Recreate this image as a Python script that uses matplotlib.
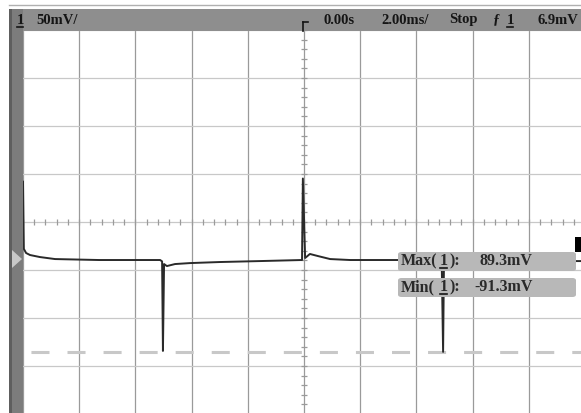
import numpy as np
import matplotlib.pyplot as plt
from matplotlib.patches import Rectangle, FancyBboxPatch, Polygon
from matplotlib.lines import Line2D

# oscilloscope capture: channel 1, 50mV/div, 2.00ms/div
time_ms = [-10.0, -9.97, -9.89, -9.75, -9.4, -8.86, -7.3, -6.0, -5.12, -5.05,
           -5.02, -4.98, -4.88, -4.59, -4.06, -3.0, -1.57, -0.07, -0.04, 0.04,
           0.21, 0.5, 0.93, 1.64, 3.0, 4.9, 4.95, 4.98, 5.12, 5.9, 7.7, 10.0]
volt_mv = [86.0, 16.0, 11.7, 9.6, 7.5, 5.4, 4.4, 4.4, 4.4, 3.0,
           -90.3, 0.2, -1.9, 0.2, 1.2, 2.3, 3.3, 4.4, 89.3, 6.5,
           10.7, 8.5, 5.4, 4.4, 4.4, 4.4, -91.3, -0.8, -1.9, 2.3, 3.3, 3.3]

max_mv = 89.3
min_mv = -91.3
mv_per_div = 50
ms_per_div = 2.0
center_mv = 44  # screen centre level

W, H = 581, 413
fig = plt.figure(figsize=(W / 100, H / 100), dpi=100)


def fx(x):
    return x / W


def fy(y):
    return 1 - y / H


def uline(x0, x1, y):
    fig.add_artist(Line2D([fx(x0), fx(x1)], [fy(y), fy(y)], color='#151515', lw=1.2))


# screen area, pixel 23..585 x 30..414 (right edge clipped by the picture)
ax = fig.add_axes([fx(23), fy(414), 562 / W, 384 / H])
ax.set_xlim(-5 * ms_per_div, 5 * ms_per_div)
ax.set_ylim(center_mv - 4 * mv_per_div, center_mv + 4 * mv_per_div)
ax.set_axis_off()

# grid
for k in range(-5, 6):
    ax.axvline(k * ms_per_div, color='#9a9a9a', lw=0.9, zorder=1)
for k in range(-4, 5):
    ax.axhline(center_mv + k * mv_per_div, color='#c8c8c8', lw=0.9, zorder=1)

# minor ticks on the centre lines
xt = np.arange(-10, 10.01, ms_per_div / 5)
ax.plot(xt, [center_mv] * len(xt), ls='none', marker='|', ms=5, mew=0.9,
        color='#9a9a9a', zorder=1)
yt = np.arange(center_mv - 200, center_mv + 200.1, mv_per_div / 5)
ax.plot([0] * len(yt), yt, ls='none', marker='_', ms=5, mew=0.9,
        color='#9a9a9a', zorder=1)

# cursor at the min level
ax.axhline(min_mv, color='#c8c8c8', lw=2.2, ls=(9.2, (5.9, 5.9)), zorder=2)

# trace
ax.plot(time_ms, volt_mv, color='#2a2a2a', lw=1.4, zorder=3)

# header bar and left strip
fig.add_artist(Line2D([fx(9), 1], [fy(4.5), fy(4.5)], color='#b0b0b0', lw=1))
fig.add_artist(Rectangle((fx(9), fy(31)), 1 - fx(9), 22 / H,
                         facecolor='#8e8e8e', edgecolor='none'))
fig.add_artist(Rectangle((fx(9), 0), 14 / W, fy(9),
                         facecolor='#7c7c7c', edgecolor='none'))
fig.add_artist(Rectangle((fx(9), 0), 3 / W, fy(9),
                         facecolor='#5e5e5e', edgecolor='none'))
# channel ground marker
fig.add_artist(Polygon([(fx(12), fy(250)), (fx(22), fy(259)), (fx(12), fy(268))],
                       closed=True, facecolor='#c8c8c8', edgecolor='none'))

hdr = dict(family='Liberation Serif', fontsize=10.5, fontweight='bold',
           color='#151515', va='center', ha='left')
ty = fy(20)
fig.text(fx(17), ty, '1', **hdr)
uline(17, 23, 27)
fig.text(fx(36), ty, '50mV/', **hdr)
fig.text(fx(323), ty, '0.00s', **hdr)
fig.text(fx(381), ty, '2.00ms/', **hdr)
fig.text(fx(449), ty, 'Stop', **hdr)
fig.text(fx(493), ty, '\u0192', **hdr)
fig.text(fx(507), ty, '1', **hdr)
uline(507, 513, 27)
fig.text(fx(537), ty, '6.9mV', **hdr)

# trigger position marker
fig.add_artist(Line2D([fx(303), fx(303)], [fy(22), fy(31)], color='#151515', lw=1.2))
fig.add_artist(Line2D([fx(303), fx(308)], [fy(22), fy(22)], color='#151515', lw=1.2))

# black marker at right edge
fig.add_artist(Rectangle((fx(575), fy(252)), 6 / W, 15 / H,
                         facecolor='black', edgecolor='none'))

# measurement boxes
txt = dict(family='Liberation Serif', fontsize=11.5, fontweight='bold',
           color='#2a2a2a', va='center', ha='left')
for top, name, val, vx in [(251, 'Max', '%.1fmV' % max_mv, 480),
                           (277, 'Min', '%.1fmV' % min_mv, 474)]:
    fig.add_artist(FancyBboxPatch((fx(398), fy(top + 20)), 178 / W, 19 / H,
                                  boxstyle='round,pad=0,rounding_size=0.006',
                                  facecolor='#b8b8b8', edgecolor='none'))
    cy = fy(top + 10)
    fig.text(fx(401), cy, name + '(', **txt)
    fig.text(fx(440), cy, '1', **txt)
    uline(440, 447, top + 17)
    fig.text(fx(450), cy, '):', **txt)
    fig.text(fx(vx), cy, val, **txt)

fig.savefig('out.png', dpi=100)
